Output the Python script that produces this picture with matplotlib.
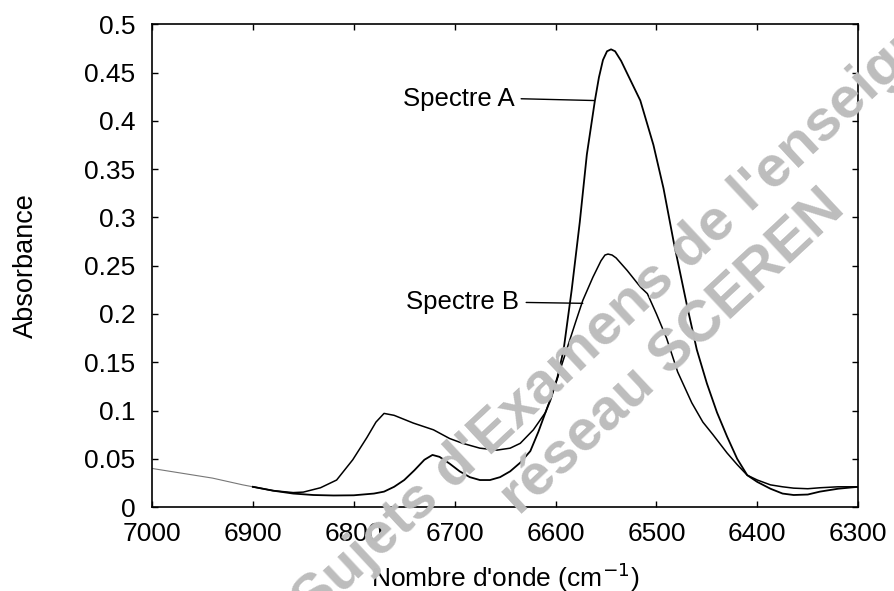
import matplotlib.pyplot as plt

plt.rcParams['font.family'] = ['Liberation Sans', 'DejaVu Sans']

# faint scanned start, shared by both spectra
base_wn = [7000, 6970, 6940, 6910, 6900]
base_abs = [0.040, 0.035, 0.030, 0.023, 0.021]

# Spectre A (tall peak)
a_wn = [6900, 6880, 6860, 6840, 6820, 6800, 6780, 6770, 6760, 6750, 6740, 6730, 6722,
        6715, 6705, 6695, 6685, 6675, 6665, 6655, 6645, 6635, 6625, 6617, 6610, 6605,
        6598, 6592, 6584, 6576, 6569, 6561, 6557, 6553, 6549, 6545, 6541, 6535, 6529,
        6516, 6503, 6493, 6483, 6470, 6460, 6450, 6440, 6430, 6420, 6410, 6400, 6387,
        6375, 6364, 6350, 6338, 6320, 6300]
a_abs = [0.021, 0.017, 0.014, 0.0125, 0.012, 0.0122, 0.014, 0.016, 0.021, 0.028, 0.038,
         0.049, 0.054, 0.052, 0.045, 0.037, 0.031, 0.028, 0.028, 0.031, 0.037, 0.046,
         0.058, 0.078, 0.098, 0.111, 0.135, 0.163, 0.225, 0.295, 0.365, 0.421, 0.445,
         0.463, 0.472, 0.474, 0.472, 0.462, 0.449, 0.421, 0.375, 0.330, 0.275, 0.210,
         0.163, 0.128, 0.098, 0.073, 0.050, 0.033, 0.026, 0.019, 0.014, 0.0125, 0.013,
         0.016, 0.019, 0.021]

# Spectre B (shoulder at 6770)
b_wn = [6900, 6880, 6860, 6850, 6833, 6817, 6801, 6787, 6778, 6770, 6760, 6741, 6721,
        6705, 6692, 6675, 6658, 6645, 6635, 6622, 6610, 6602, 6589, 6580, 6573, 6563,
        6555, 6551, 6548, 6544, 6540, 6529, 6516, 6509, 6500, 6490, 6479, 6465, 6454,
        6444, 6430, 6420, 6410, 6400, 6387, 6375, 6364, 6350, 6338, 6320, 6300]
b_abs = [0.021, 0.017, 0.015, 0.0155, 0.020, 0.028, 0.049, 0.072, 0.088, 0.097, 0.095,
         0.087, 0.080, 0.071, 0.066, 0.061, 0.059, 0.061, 0.066, 0.080, 0.098, 0.121,
         0.163, 0.192, 0.214, 0.238, 0.255, 0.261, 0.262, 0.261, 0.258, 0.245, 0.228,
         0.221, 0.200, 0.175, 0.140, 0.108, 0.088, 0.075, 0.056, 0.044, 0.033, 0.028,
         0.023, 0.021, 0.0196, 0.019, 0.020, 0.021, 0.021]

x_ticks = [7000, 6900, 6800, 6700, 6600, 6500, 6400, 6300]
y_ticks = [0, 0.05, 0.1, 0.15, 0.2, 0.25, 0.3, 0.35, 0.4, 0.45, 0.5]

fig = plt.figure(figsize=(8.94, 5.91), dpi=100)
ax = fig.add_axes([0.170, 0.142, 0.790, 0.817])

# watermark
wm = dict(color='#bdbdbd', fontsize=42, fontweight='bold', rotation=43,
          rotation_mode='anchor', ha='left', va='baseline', zorder=0)
fig.text(313 / 894, 1 - 621 / 591, "Sujets d'Examens de l'enseignement", **wm)
fig.text(520 / 894, 1 - 517 / 591, "réseau SCEREN", **wm)

ax.plot(base_wn, base_abs, color='#777777', lw=0.8, zorder=2)
ax.plot(a_wn, a_abs, color='black', lw=1.3, zorder=3)
ax.plot(b_wn, b_abs, color='black', lw=1.1, zorder=3)

ax.annotate('Spectre A', xy=(6562, 0.421), xytext=(6641, 0.423),
            ha='right', va='center', fontsize=18.5,
            arrowprops=dict(arrowstyle='-', lw=1.0, color='black',
                            relpos=(1, 0.5), shrinkA=3, shrinkB=0))
ax.annotate('Spectre B', xy=(6573, 0.211), xytext=(6636, 0.212),
            ha='right', va='center', fontsize=18.5,
            arrowprops=dict(arrowstyle='-', lw=1.0, color='black',
                            relpos=(1, 0.5), shrinkA=3, shrinkB=0))

ax.set_xlim(7000, 6300)
ax.set_ylim(0, 0.5)
ax.set_xticks(x_ticks)
ax.set_xticklabels([str(v) for v in x_ticks])
ax.set_yticks(y_ticks)
ax.set_yticklabels(['0', '0.05', '0.1', '0.15', '0.2', '0.25', '0.3', '0.35',
                    '0.4', '0.45', '0.5'])
ax.tick_params(direction='in', length=4, width=1, top=True, right=True,
               labelsize=19)
ax.tick_params(axis='x', pad=11)
ax.tick_params(axis='y', pad=12)
for s in ax.spines.values():
    s.set_linewidth(1.2)
ax.patch.set_alpha(0)

ax.set_xlabel("Nombre d'onde (cm$^{-1}$)", fontsize=19)
ax.xaxis.set_label_coords(0.5, -0.11)
ax.set_ylabel('Absorbance', fontsize=19.5)
ax.yaxis.set_label_coords(-0.16, 0.5)

fig.savefig('out.png', dpi=100)
